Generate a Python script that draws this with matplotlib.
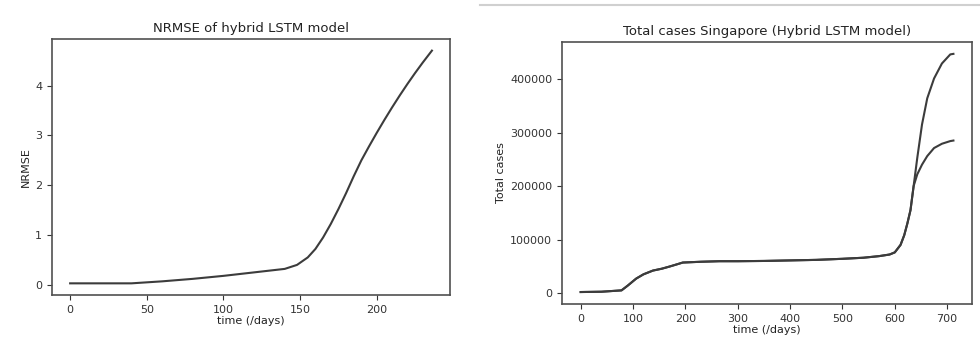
import matplotlib
matplotlib.use("Agg")
import matplotlib.pyplot as plt
from matplotlib.lines import Line2D

# NRMSE of the hybrid model
nrmse_days = [0, 20, 40, 60, 80, 100, 120, 140, 148, 155, 160, 165, 170, 175,
              180, 185, 190, 195, 200, 205, 210, 215, 220, 225, 230, 236]
nrmse_vals = [0.03, 0.03, 0.03, 0.07, 0.12, 0.18, 0.25, 0.32, 0.40, 0.55, 0.72,
              0.95, 1.22, 1.52, 1.84, 2.18, 2.50, 2.78, 3.05, 3.31, 3.56, 3.80,
              4.03, 4.25, 4.46, 4.70]

# total cases Singapore, two curves that split after day ~636
cases_days = [0, 40, 78, 90, 106, 120, 138, 155, 170, 185, 195, 230, 265, 300,
              350, 400, 450, 500, 540, 570, 590, 600, 611, 618, 624, 630, 636]
cases_common = [1900, 2500, 5000, 14000, 27000, 35000, 42000, 45500, 49600,
                54000, 57000, 58500, 59500, 59500, 60000, 61000, 62000, 64000,
                66000, 69000, 72000, 76000, 90000, 108000, 130000, 155000, 200000]
tail_days = [636, 643, 652, 662, 675, 690, 706, 712]
tail_high = [200000, 253000, 315000, 364000, 401000, 429000, 446000, 447000]
tail_low = [200000, 222000, 240000, 256000, 271000, 279000, 284000, 285000]

line_col = '#3c3c3c'
spine_col = '#505050'

fig = plt.figure(figsize=(9.8, 3.45), dpi=100)

def style(ax):
    for s in ax.spines.values():
        s.set_color(spine_col)
        s.set_linewidth(1.2)
    ax.tick_params(labelsize=8, colors='#333333')

ax1 = fig.add_axes([0.0531, 0.145, 0.4061, 0.742])
ax1.plot(nrmse_days, nrmse_vals, color=line_col, lw=1.5)
ax1.set_title('NRMSE of hybrid LSTM model', fontsize=9.5, color='#222222', pad=5)
ax1.set_xlabel('time (/days)', fontsize=8, labelpad=1, color='#222222')
ax1.set_ylabel('NRMSE', fontsize=8, labelpad=3, color='#222222')
ax1.set_xticks([0, 50, 100, 150, 200])
ax1.set_yticks([0, 1, 2, 3, 4])
style(ax1)

ax2 = fig.add_axes([0.5735, 0.119, 0.4184, 0.7594])
ax2.plot(cases_days + tail_days[1:], cases_common + tail_high[1:], color=line_col, lw=1.5)
ax2.plot(cases_days + tail_days[1:], cases_common + tail_low[1:], color=line_col, lw=1.5)
ax2.set_title('Total cases Singapore (Hybrid LSTM model)', fontsize=9.5, color='#222222', pad=5)
ax2.set_xlabel('time (/days)', fontsize=8, labelpad=1, color='#222222')
ax2.set_ylabel('Total cases', fontsize=8, labelpad=3, color='#222222')
ax2.set_xticks(range(0, 701, 100))
ax2.set_yticks(range(0, 400001, 100000))
style(ax2)

# thin separator from the screenshot
fig.add_artist(Line2D([0.49, 1.0], [0.985, 0.985], color='#d0d0d0', lw=1.5))

fig.savefig('out.png', dpi=100)
